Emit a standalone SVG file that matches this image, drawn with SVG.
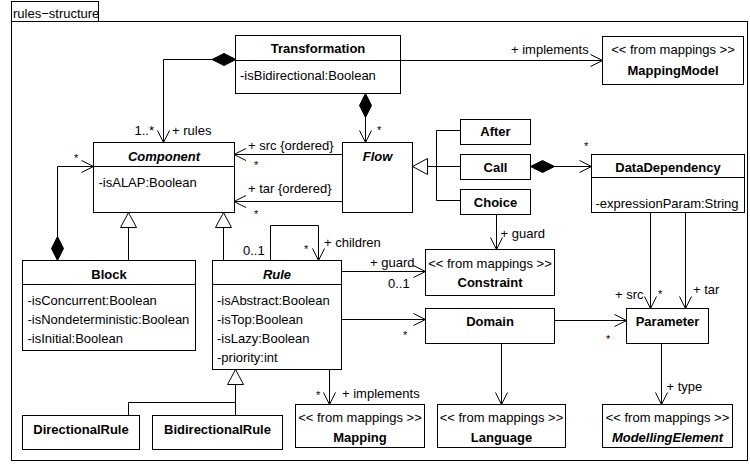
<svg xmlns="http://www.w3.org/2000/svg" width="750" height="464" viewBox="0 0 750 464">
  <style>
    text { font-family: "Liberation Sans", Arial, sans-serif; font-size: 13px; fill: #000; }
    .title { font-weight: bold; text-anchor: middle; }
    .abstract { font-style: italic; }
    .stereo { text-anchor: middle; }
    .mult { font-size: 11px; }
    .box { fill: #fff; stroke: #000; stroke-width: 1; }
    .div { stroke: #000; stroke-width: 1; }
    .conn { fill: none; stroke: #000; stroke-width: 1; }
  </style>
  <defs>
    <marker id="open" markerUnits="userSpaceOnUse" markerWidth="16" markerHeight="16" viewBox="-14 -8 16 16" refX="0" refY="0" orient="auto">
      <path d="M-12,-6 L0,0 L-12,6" fill="none" stroke="#000" stroke-width="1"/>
    </marker>
    <marker id="diamond" markerUnits="userSpaceOnUse" markerWidth="28" markerHeight="16" viewBox="-2 -8 28 16" refX="0" refY="0" orient="auto">
      <path d="M0,0 L12,-6 L24,0 L12,6 Z" fill="#000" stroke="#000" stroke-width="1"/>
    </marker>
    <marker id="triangle" markerUnits="userSpaceOnUse" markerWidth="20" markerHeight="20" viewBox="-17 -10 20 20" refX="0" refY="0" orient="auto">
      <path d="M-15,-8 L0,0 L-15,8 Z" fill="#fff" stroke="#000" stroke-width="1"/>
    </marker>
  </defs>

  <!-- package frame -->
  <g id="frame">
    <rect class="box" x="11.5" y="21.5" width="736" height="439"/>
    <rect class="box" x="11.5" y="1.5" width="87" height="20"/>
    <text x="13" y="18">rules−structure</text>
  </g>

  <!-- connectors -->
  <g id="connectors">
    <path class="conn" d="M236,59.5 H163.5 V142.5" marker-start="url(#diamond)" marker-end="url(#open)"/>
    <path class="conn" d="M365.5,93.5 V142.5" marker-start="url(#diamond)" marker-end="url(#open)"/>
    <path class="conn" d="M342.5,154.5 H234" marker-end="url(#open)"/>
    <path class="conn" d="M342.5,201.5 H234" marker-end="url(#open)"/>
    <path class="conn" d="M400.5,60.5 H602.5" marker-end="url(#open)"/>
    <path class="conn" d="M460.5,130.5 H436.5 V200.5 H460.5"/>
    <path class="conn" d="M460.5,166.5 H412.5" marker-end="url(#triangle)"/>
    <path class="conn" d="M530.5,166.5 H591.5" marker-start="url(#diamond)" marker-end="url(#open)"/>
    <path class="conn" d="M496.5,214.5 V249.5" marker-end="url(#open)"/>
    <path class="conn" d="M650.5,212.5 V308.5" marker-end="url(#open)"/>
    <path class="conn" d="M685.5,212.5 V308.5" marker-end="url(#open)"/>
    <path class="conn" d="M341.5,271.5 H425.5" marker-end="url(#open)"/>
    <path class="conn" d="M341.5,319.5 H425.5" marker-end="url(#open)"/>
    <path class="conn" d="M554.5,320.5 H626.5" marker-end="url(#open)"/>
    <path class="conn" d="M501.5,343.5 V404.5" marker-end="url(#open)"/>
    <path class="conn" d="M661.5,343.5 V404.5" marker-end="url(#open)"/>
    <path class="conn" d="M329.5,369.5 V404.5" marker-end="url(#open)"/>
    <path class="conn" d="M270.5,260.5 V225.5 H318.5 V260.5" marker-end="url(#open)"/>
    <path class="conn" d="M223.5,260.5 V212.5" marker-end="url(#triangle)"/>
    <path class="conn" d="M128.5,260.5 V212.5" marker-end="url(#triangle)"/>
    <path class="conn" d="M57.5,260.5 V166.5 H93.5" marker-start="url(#diamond)" marker-end="url(#open)"/>
    <path class="conn" d="M235.5,415.5 V369.5" marker-end="url(#triangle)"/>
    <path class="conn" d="M128.5,415.5 V402.5 H235.5"/>

    <!-- role names and multiplicities -->
    <text x="154" y="134.5" text-anchor="end">1..*</text>
    <text x="172" y="134.5">+ rules</text>
    <text x="248" y="149.5">+ src {ordered}</text>
    <text class="mult" x="254" y="169">*</text>
    <text x="248" y="192.5">+ tar {ordered}</text>
    <text class="mult" x="254" y="218">*</text>
    <text class="mult" x="377" y="134">*</text>
    <text x="511" y="53.5">+ implements</text>
    <text class="mult" x="584" y="150">*</text>
    <text class="mult" x="74" y="162">*</text>
    <text x="243" y="255">0..1</text>
    <text class="mult" x="304" y="253">*</text>
    <text x="324" y="247">+ children</text>
    <text x="370" y="267">+ guard</text>
    <text x="388" y="288">0..1</text>
    <text class="mult" x="403" y="339">*</text>
    <text x="500.5" y="238">+ guard</text>
    <text x="615" y="299">+ src</text>
    <text class="mult" x="658" y="298">*</text>
    <text x="693" y="293.5">+ tar</text>
    <text class="mult" x="606" y="342.5">*</text>
    <text class="mult" x="316" y="399">*</text>
    <text x="342" y="398">+ implements</text>
    <text x="666.5" y="390.5">+ type</text>
  </g>

  <g id="Transformation">
    <rect class="box" x="235.5" y="35.5" width="165" height="58"/>
    <line class="div" x1="235.5" y1="60.5" x2="400.5" y2="60.5"/>
    <text class="title" x="318" y="52.5">Transformation</text>
    <text x="240" y="79.5">-isBidirectional:Boolean</text>
  </g>

  <g id="MappingModel">
    <rect class="box" x="602.5" y="36.5" width="141" height="48"/>
    <text class="stereo" x="673" y="54">&lt;&lt; from mappings &gt;&gt;</text>
    <text class="title" x="673" y="74.5">MappingModel</text>
  </g>

  <g id="Component">
    <rect class="box" x="93.5" y="142.5" width="141" height="70"/>
    <line class="div" x1="93.5" y1="166.5" x2="234.5" y2="166.5"/>
    <text class="title abstract" x="164" y="160.5">Component</text>
    <text x="98.5" y="186.5">-isALAP:Boolean</text>
  </g>

  <g id="Flow">
    <rect class="box" x="342.5" y="142.5" width="70" height="70"/>
    <text class="title abstract" x="377.5" y="160.5">Flow</text>
  </g>

  <g id="After">
    <rect class="box" x="460.5" y="119.5" width="70" height="25"/>
    <text class="title" x="495.5" y="136">After</text>
  </g>

  <g id="Call">
    <rect class="box" x="460.5" y="154.5" width="70" height="25"/>
    <text class="title" x="495.5" y="171.5">Call</text>
  </g>

  <g id="Choice">
    <rect class="box" x="460.5" y="189.5" width="70" height="25"/>
    <text class="title" x="495.5" y="206.5">Choice</text>
  </g>

  <g id="DataDependency">
    <rect class="box" x="591.5" y="154.5" width="153" height="58"/>
    <line class="div" x1="591.5" y1="177.5" x2="744.5" y2="177.5"/>
    <text class="title" x="668" y="172">DataDependency</text>
    <text x="595.5" y="207.5">-expressionParam:String</text>
  </g>

  <g id="Block">
    <rect class="box" x="22.5" y="260.5" width="173" height="90"/>
    <line class="div" x1="22.5" y1="284.5" x2="195.5" y2="284.5"/>
    <text class="title" x="109" y="278.5">Block</text>
    <text x="27.5" y="305">-isConcurrent:Boolean</text>
    <text x="27.5" y="324">-isNondeterministic:Boolean</text>
    <text x="27.5" y="343">-isInitial:Boolean</text>
  </g>

  <g id="Rule">
    <rect class="box" x="212.5" y="260.5" width="129" height="109"/>
    <line class="div" x1="212.5" y1="284.5" x2="341.5" y2="284.5"/>
    <text class="title abstract" x="277" y="278.5">Rule</text>
    <text x="217" y="305">-isAbstract:Boolean</text>
    <text x="217" y="324">-isTop:Boolean</text>
    <text x="217" y="343">-isLazy:Boolean</text>
    <text x="217" y="362">-priority:int</text>
  </g>

  <g id="Constraint">
    <rect class="box" x="425.5" y="249.5" width="129" height="46"/>
    <text class="stereo" x="490" y="268">&lt;&lt; from mappings &gt;&gt;</text>
    <text class="title" x="490" y="286.5">Constraint</text>
  </g>

  <g id="Domain">
    <rect class="box" x="425.5" y="308.5" width="129" height="35"/>
    <text class="title" x="490" y="326">Domain</text>
  </g>

  <g id="Parameter">
    <rect class="box" x="626.5" y="308.5" width="82" height="35"/>
    <text class="title" x="667.5" y="326">Parameter</text>
  </g>

  <g id="DirectionalRule">
    <rect class="box" x="22.5" y="415.5" width="117" height="34"/>
    <text class="title" x="81" y="434">DirectionalRule</text>
  </g>

  <g id="BidirectionalRule">
    <rect class="box" x="152.5" y="415.5" width="130" height="34"/>
    <text class="title" x="217.5" y="434">BidirectionalRule</text>
  </g>

  <g id="Mapping">
    <rect class="box" x="295.5" y="404.5" width="129" height="43"/>
    <text class="stereo" x="360" y="422">&lt;&lt; from mappings &gt;&gt;</text>
    <text class="title" x="360" y="441.5">Mapping</text>
  </g>

  <g id="Language">
    <rect class="box" x="437.5" y="404.5" width="128" height="43"/>
    <text class="stereo" x="501.5" y="422">&lt;&lt; from mappings &gt;&gt;</text>
    <text class="title" x="501.5" y="441.5">Language</text>
  </g>

  <g id="ModellingElement">
    <rect class="box" x="602.5" y="404.5" width="130" height="43"/>
    <text class="stereo" x="667.5" y="422">&lt;&lt; from mappings &gt;&gt;</text>
    <text class="title abstract" x="667.5" y="441.5">ModellingElement</text>
  </g>
</svg>
